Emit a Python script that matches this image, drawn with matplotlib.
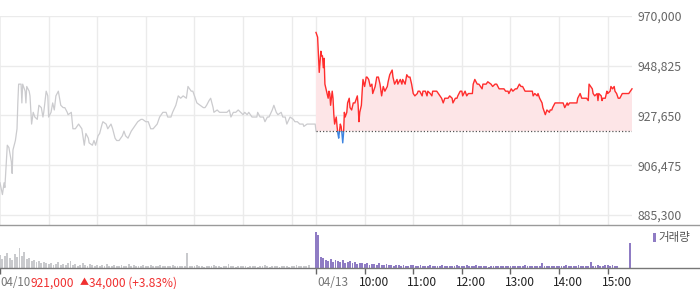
import numpy as np
import matplotlib
matplotlib.use("Agg")
import matplotlib.pyplot as plt
from matplotlib.patches import Rectangle
from matplotlib.lines import Line2D
import matplotlib.transforms as mtransforms

plt.rcParams['font.family'] = ['Noto Sans CJK KR', 'DejaVu Sans']

# ---------------- data ----------------
# minutes since 04/10 09:00 (each session 390 min, 04/13 starts at 390)
d1_min = [0, 3, 5, 6, 9, 11, 14, 15, 16, 19,
          21, 22, 23, 26, 27, 28, 31, 32, 33, 36,
          37, 39, 41, 43, 46, 48, 51, 53, 54, 57,
          59, 60, 63, 65, 67, 69, 72, 73, 75, 78,
          80, 83, 84, 88, 90, 93, 95, 97, 101, 104,
          106, 109, 110, 114, 116, 118, 121, 123, 126, 127,
          131, 133, 137, 139, 142, 144, 147, 151, 153, 155,
          158, 162, 164, 168, 170, 174, 176, 180, 183, 186,
          189, 194, 197, 201, 205, 207, 211, 213, 217, 220,
          223, 226, 230, 232, 236, 238, 241, 243, 247, 251,
          253, 255, 258, 260, 263, 264, 268, 271, 275, 280,
          283, 285, 288, 291, 294, 297, 300, 302, 305, 307,
          311, 313, 317, 318, 321, 325, 327, 330, 332, 336,
          338, 341, 343, 347, 349, 352, 354, 358, 362, 364,
          367, 370, 374, 375, 379, 383, 389, 390]
# prices in thousand won
d1_price = [899, 894, 899, 897, 915, 914, 908, 903, 913, 917,
            922, 933, 941, 941, 933, 941, 938, 933, 940, 938,
            936, 924, 929, 927, 926, 932, 931, 927, 929, 938,
            936, 927, 929, 933, 930, 936, 938, 936, 932, 931,
            931, 929, 928, 929, 922, 922, 923, 924, 922, 915,
            920, 918, 916, 915, 917, 915, 919, 920, 924, 925,
            924, 922, 924, 922, 918, 917, 917, 919, 921, 919,
            918, 921, 922, 924, 925, 926, 926, 925, 925, 922,
            922, 924, 927, 929, 929, 927, 927, 929, 932, 936,
            935, 936, 935, 940, 938, 938, 935, 933, 932, 931,
            931, 932, 934, 935, 931, 929, 930, 929, 929, 929,
            930, 927, 929, 929, 930, 929, 928, 929, 928, 929,
            927, 927, 927, 929, 927, 927, 925, 927, 927, 930,
            932, 929, 928, 929, 927, 927, 924, 927, 926, 925,
            925, 924, 924, 923, 924, 924, 924, 921]

# minutes since 04/13 09:00
d2_off = [0, 2, 4, 6, 7, 8, 9, 10, 11, 13,
          15, 16, 17, 18, 20, 21, 22, 23, 25, 26,
          27, 28, 30, 31, 32, 33, 34, 35, 36, 38,
          39, 41, 42, 44, 46, 48, 51, 52, 53, 54,
          56, 57, 58, 60, 62, 63, 65, 67, 69, 70,
          73, 75, 77, 79, 81, 83, 85, 88, 89, 91,
          94, 95, 97, 100, 101, 104, 106, 107, 110, 112,
          114, 116, 118, 120, 122, 125, 126, 128, 131, 132,
          135, 137, 138, 141, 143, 144, 147, 149, 151, 153,
          155, 157, 159, 162, 163, 165, 168, 169, 172, 174,
          175, 178, 180, 181, 184, 186, 188, 190, 193, 194,
          196, 199, 201, 205, 206, 210, 212, 216, 218, 221,
          223, 226, 230, 232, 234, 237, 238, 241, 243, 246,
          248, 251, 253, 255, 258, 260, 264, 267, 268, 270,
          273, 274, 276, 279, 280, 283, 284, 285, 288, 289,
          291, 292, 295, 297, 299, 301, 304, 305, 307, 310,
          311, 313, 316, 317, 320, 322, 323, 326, 328, 329,
          332, 334, 336, 337, 339, 341, 342, 344, 347, 348,
          349, 352, 353, 354, 357, 359, 360, 363, 364, 366,
          368, 369, 371, 373, 375, 378, 379, 384, 386, 390]
d2_price = [963, 961, 946, 955, 953, 953, 948, 952, 941, 938,
            935, 938, 937, 932, 938, 935, 928, 924, 927, 923,
            920, 918, 924, 923, 920, 916, 920, 929, 927, 929,
            933, 935, 931, 930, 933, 933, 936, 932, 925, 929,
            932, 938, 943, 940, 944, 944, 943, 940, 941, 937,
            940, 944, 944, 941, 936, 940, 938, 940, 942, 945,
            947, 944, 941, 943, 941, 943, 941, 943, 941, 945,
            944, 944, 941, 937, 936, 937, 938, 938, 936, 938,
            938, 936, 938, 937, 936, 938, 938, 938, 937, 936,
            935, 933, 935, 935, 935, 936, 935, 933, 935, 935,
            936, 938, 938, 936, 938, 936, 937, 937, 937, 941,
            943, 941, 941, 939, 941, 941, 942, 941, 940, 941,
            941, 939, 939, 939, 938, 938, 937, 939, 938, 939,
            939, 941, 940, 940, 938, 938, 938, 938, 936, 937,
            936, 937, 935, 933, 931, 928, 929, 930, 929, 930,
            930, 931, 933, 933, 933, 933, 933, 933, 931, 933,
            932, 933, 933, 933, 933, 933, 935, 937, 935, 935,
            935, 935, 934, 941, 940, 939, 937, 936, 937, 934,
            937, 936, 934, 935, 935, 938, 937, 938, 940, 939,
            940, 938, 937, 935, 935, 937, 937, 937, 937, 939]

prev_close = 921000

# volume, one bar every 3 minutes (relative units)
d1_vol = [13, 9, 12, 15, 10, 8, 14, 11, 20, 12,
          16, 9, 10, 7, 8, 6, 7, 5, 6, 5,
          4, 5, 3, 4, 6, 3, 4, 3, 5, 7,
          3, 4, 2, 3, 5, 3, 2, 4, 3, 2,
          3, 2, 3, 2, 4, 2, 2, 3, 2, 2,
          3, 2, 2, 4, 2, 3, 2, 2, 2, 3,
          2, 2, 3, 2, 2, 2, 3, 2, 2, 2,
          2, 3, 2, 2, 2, 2, 2, 15, 2, 2,
          2, 3, 2, 2, 1, 2, 2, 2, 3, 2,
          2, 1, 2, 2, 4, 2, 2, 1, 2, 2,
          2, 2, 1, 2, 2, 2, 1, 2, 2, 3,
          2, 1, 2, 2, 2, 1, 2, 2, 2, 1,
          2, 2, 3, 2, 2, 2, 2, 3, 0, 0]
d2_vol = [36, 33, 11, 10, 8, 7, 9, 6, 8, 7,
          6, 8, 5, 6, 7, 5, 6, 4, 5, 5,
          4, 5, 3, 4, 4, 3, 5, 3, 3, 4,
          3, 3, 2, 3, 3, 2, 3, 2, 2, 3,
          3, 2, 2, 3, 2, 2, 2, 3, 2, 2,
          2, 2, 3, 2, 2, 2, 2, 2, 3, 2,
          2, 2, 3, 2, 2, 2, 3, 2, 2, 2,
          2, 1, 2, 2, 2, 2, 2, 2, 2, 2,
          2, 2, 2, 2, 2, 2, 3, 2, 2, 2,
          2, 2, 2, 5, 2, 2, 2, 2, 2, 2,
          2, 2, 2, 3, 2, 2, 2, 2, 3, 2,
          2, 2, 2, 6, 2, 2, 3, 2, 2, 3,
          3, 2, 3, 2, 2, 0, 0, 0, 0, 25]

y_ticks = [885300, 906475, 927650, 948825, 970000]
day_labels = ['04/10', '04/13']
hour_labels = ['10:00', '11:00', '12:00', '13:00', '14:00', '15:00']
close_text = '921,000'
arrow_text = '\u25b2'
change_text = '34,000 (+3.83%)'
legend_label = '거래량'

# ---------------- figure ----------------
W, H = 700, 289
fig = plt.figure(figsize=(W / 100, H / 100), dpi=100)

plot_w = 632 / W
ax = fig.add_axes([0, 1 - 225 / H, plot_w, (225 - 16) / H])
axv = fig.add_axes([0, 1 - 268 / H, plot_w, (268 - 225) / H])

x1 = np.array(d1_min, dtype=float)
p1 = np.array(d1_price, dtype=float) * 1000
x2 = 390 + np.array(d2_off, dtype=float)
p2 = np.array(d2_price, dtype=float) * 1000

ymax = y_ticks[-1]
ymin = ymax - (y_ticks[-1] - y_ticks[0]) * 209 / 199
ax.set_xlim(0, 780)
ax.set_ylim(ymin, ymax)

grid_c = '#ebebeb'
vgrid = [60, 120, 180, 240, 300, 360, 390, 450, 510, 570, 630, 690, 750]
ax.axvline(0.4, color=grid_c, lw=1.2, zorder=0)
for g in vgrid:
    ax.axvline(g, color=grid_c, lw=1.0, zorder=0)
for t in y_ticks:
    ax.axhline(t, color=grid_c, lw=1.0, zorder=0)

# day 1 (grey)
ax.plot(x1, p1, color='#cbcbce', lw=0.9, zorder=3)

# day 2 fill + coloured line
ax.fill_between(x2, p2, prev_close, where=p2 >= prev_close, interpolate=True,
                color='#fde5e7', lw=0, zorder=1)
ax.fill_between(x2, p2, prev_close, where=p2 <= prev_close, interpolate=True,
                color='#e2ecf9', lw=0, zorder=1)
l_red, = ax.plot(x2, p2, color='#ff2d2d', lw=1.0, zorder=4)
l_red.set_clip_path(Rectangle((380, prev_close), 420, 300000, transform=ax.transData))
l_blue, = ax.plot(x2, p2, color='#3d84e0', lw=1.0, zorder=4)
l_blue.set_clip_path(Rectangle((380, prev_close - 300000), 420, 300000, transform=ax.transData))
ax.plot([390, 780], [prev_close, prev_close], color='#555555', lw=0.9,
        ls=(0, (1, 1.6)), zorder=5)

for s in ax.spines.values():
    s.set_visible(False)
ax.set_xticks([])
ax.yaxis.tick_right()
ax.set_yticks(y_ticks)
ax.set_yticklabels([f'{v:,}' for v in y_ticks])
ax.tick_params(axis='y', length=0, pad=4.3, labelsize=8.8, labelcolor='#666666')

# volume
m1 = np.arange(len(d1_vol)) * 3
m2 = 390 + np.arange(len(d2_vol)) * 3
axv.bar(m1, d1_vol, width=2.3, color='#c9cacd', lw=0)
axv.bar(m2, d2_vol, width=2.3, color='#8f7cc4', lw=0)
axv.set_xlim(0, 780)
axv.set_ylim(0, 43)
for s in axv.spines.values():
    s.set_visible(False)
axv.set_yticks([])
axv.set_xticks([0, 390, 450, 510, 570, 630, 690, 750])
axv.tick_params(axis='x', direction='out', length=4, width=1, color='#666666',
                labelbottom=False)

# separator lines spanning full width
fig.add_artist(Line2D([0, 1], [1 - 225 / H] * 2, transform=fig.transFigure,
                      color='#9a9a9a', lw=1.0))
fig.add_artist(Line2D([0, 1], [1 - 268 / H] * 2, transform=fig.transFigure,
                      color='#777777', lw=1.0))

# bottom labels
ly = 1 - 283 / H
fs = 8.6
fig.text(0 / W, ly, day_labels[0], color='#777777', fontsize=8.3, va='center', ha='left')
fig.text(31 / W, ly, close_text, color='#f03030', fontsize=fs, va='center', ha='left')
fig.text(80 / W, ly, arrow_text, color='#f03030', fontsize=6.5, va='center', ha='left')
fig.text(89 / W, ly, change_text, color='#f03030', fontsize=fs, va='center', ha='left')
fig.text(317 / W, ly, day_labels[1], color='#777777', fontsize=fs, va='center', ha='left')
hour_pos = [450, 510, 570, 630, 690, 750]
off = mtransforms.ScaledTranslation(-6 / 100, 0, fig.dpi_scale_trans)
blend = mtransforms.blended_transform_factory(axv.transData, fig.transFigure)
for hp, hl in zip(hour_pos, hour_labels):
    fig.text(hp, ly, hl, color='#222222', fontsize=fs, va='center', ha='left',
             transform=blend + off)

# legend
fig.add_artist(Rectangle((653 / W, 1 - 242 / H), 3 / W, 9 / H,
                         transform=fig.transFigure, color='#8f7cc4', lw=0))
fig.text(658 / W, 1 - 238 / H, legend_label, color='#555555', fontsize=8.3,
         va='center', ha='left')

fig.savefig('out.png', dpi=100)
